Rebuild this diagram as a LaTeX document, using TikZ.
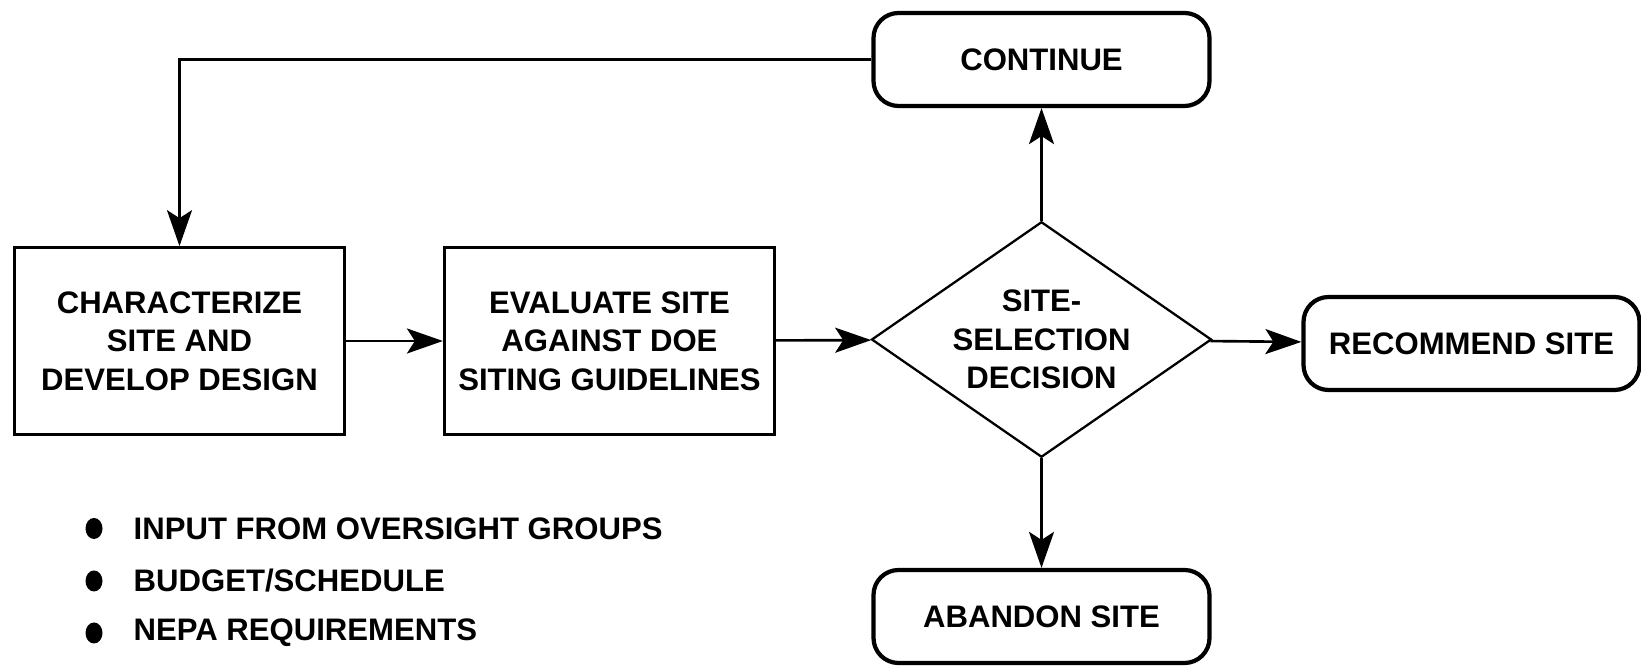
\documentclass[tikz,border=0pt]{standalone}
\usepackage{fontspec}
\setmainfont{Liberation Sans}
\usetikzlibrary{shapes.geometric}
\usetikzlibrary{arrows.meta}
\usetikzlibrary{positioning}

\begin{document}
\begin{tikzpicture}[
        font=\fontsize{17.7}{22}\selectfont\bfseries,
        stepbox/.style={draw, line width=1.8pt, minimum width=6.6cm, minimum height=3.73cm, align=center},
        endbox/.style={draw, line width=2.4pt, rounded corners=0.5cm, minimum width=6.72cm, minimum height=1.86cm, align=center},
        choice/.style={draw, line width=1.3pt, diamond, aspect=1.44, inner sep=0pt, minimum width=6.8cm, minimum height=4.71cm, align=center},
        flow/.style={-{Stealth[length=0.72cm, width=0.5cm, inset=0.16cm]}, line width=1.5pt},
        point/.style={anchor=west}
    ]
        \useasboundingbox (0,0) rectangle (32.82,13.34);
        \node[stepbox] at (3.59, 6.52) (char) {CHARACTERIZE\\SITE AND\\DEVELOP DESIGN};
        \node[stepbox] at (12.19, 6.52) (eval) {EVALUATE SITE\\AGAINST DOE\\SITING GUIDELINES};
        \node[choice] at (20.83, 6.55) (decide) {SITE-\\SELECTION\\DECISION};
        \node[endbox] at (20.83, 12.15) (cont) {CONTINUE};
        \node[endbox] at (29.43, 6.47) (recom) {RECOMMEND SITE};
        \node[endbox] at (20.83, 1.01) (aband) {ABANDON SITE};
        \draw[flow] (char) -- (eval);
        \draw[flow] (eval) -- (decide);
        \draw[flow] (decide) -- (cont);
        \draw[flow] (decide) -- (recom);
        \draw[flow] (decide) -- (aband);
        \draw[flow] (cont.west) -| (char.north);
        % factors listed below the boxes
        \foreach \y/\name/\txt in {2.77/oversight/{INPUT FROM OVERSIGHT GROUPS},
                                   1.72/budget/{BUDGET/SCHEDULE},
                                   0.68/nepa/{NEPA REQUIREMENTS}} {
            \fill (1.88, \y) ellipse (0.17cm and 0.21cm);
            \node[point] at (2.55, \y) (\name) {\txt};
        }
\end{tikzpicture}
\end{document}
